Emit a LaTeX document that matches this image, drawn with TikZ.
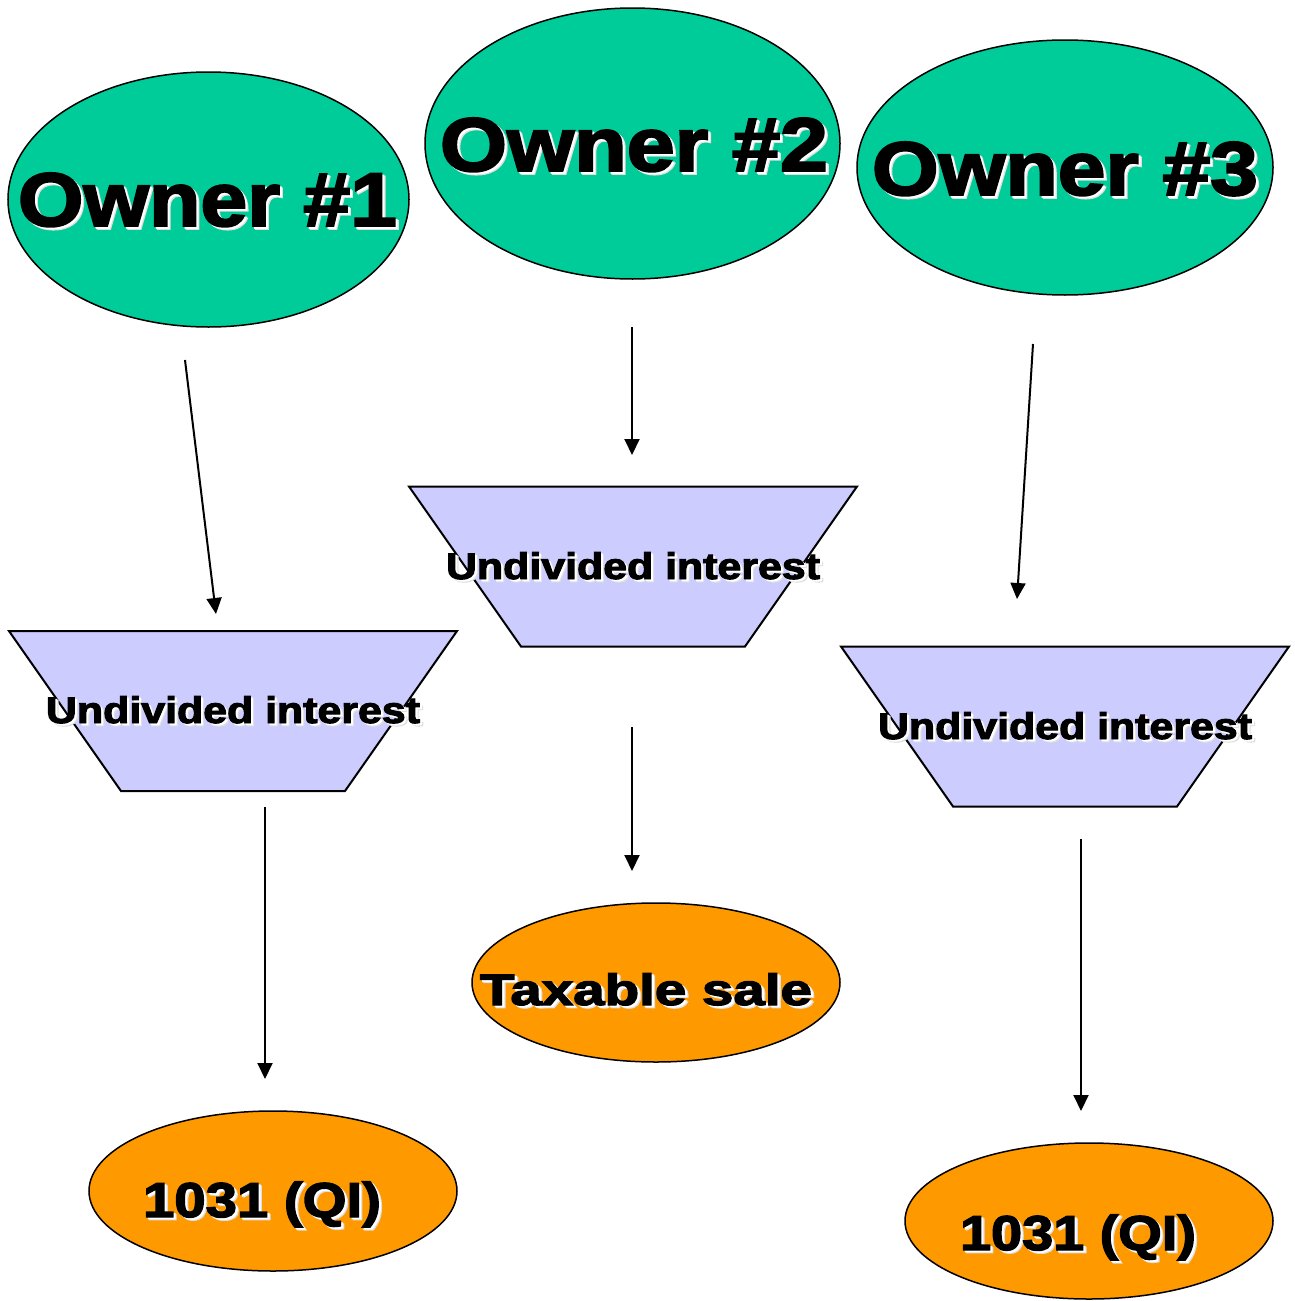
\documentclass[tikz,border=0pt]{standalone}
\usepackage{fontspec}
\usepackage{graphicx}
\usetikzlibrary{shapes.geometric,arrows.meta}
\newfontfamily\heavy[FakeBold=2.6]{Liberation Sans Bold}
\definecolor{ownergreen}{RGB}{0,204,153}
\definecolor{lavender}{RGB}{204,204,255}
\definecolor{amber}{RGB}{255,153,0}
% heavy text with a soft white shadow, stretched to a given width
\newcommand\glowtext[2]{\resizebox{#1}{\height}{%
  \rlap{\kern1.4pt\raisebox{-1.4pt}{\color{white!75!gray}#2}}%
  \rlap{\kern0.9pt\raisebox{-0.9pt}{\color{white}#2}}#2}}
\tikzset{
  owner/.style={ellipse, draw=black, line width=0.75pt, fill=ownergreen, inner sep=0pt, outer sep=0pt},
  outcome/.style={ellipse, draw=black, line width=0.75pt, fill=amber, inner sep=0pt, outer sep=0pt},
  trap/.style={draw=black, line width=1pt, fill=lavender, line join=miter},
  lbl/.style={anchor=base, inner sep=0pt, text=black},
  flow/.style={-{Triangle[length=8pt,width=7.5pt]}, line width=1pt},
}
\begin{document}
\begin{tikzpicture}[x=0.5pt, y=-0.5pt]
\useasboundingbox (0,0) rectangle (1295,1301);
\fill[white] (0,0) rectangle (1295,1301);

% owners
\node[owner, minimum width=200.5pt, minimum height=127.5pt] (o1) at (208.5,199.5) {};
\node[owner, minimum width=207.5pt, minimum height=135.5pt] (o2) at (632.5,143.5) {};
\node[owner, minimum width=208pt, minimum height=127.5pt] (o3) at (1065,167.5) {};
\node[lbl, font=\heavy\fontsize{38}{40}\selectfont] (o1t) at (207.5,226) {\glowtext{189.5pt}{Owner \#1}};
\node[lbl, font=\heavy\fontsize{38}{40}\selectfont] (o2t) at (634,171) {\glowtext{194pt}{Owner \#2}};
\node[lbl, font=\heavy\fontsize{38}{40}\selectfont] (o3t) at (1065,195) {\glowtext{193pt}{Owner \#3}};

% undivided interests
\coordinate (t1) at (233,711);
\coordinate (t2) at (633,566.5);
\coordinate (t3) at (1065,726.5);
\foreach \t in {t1,t2,t3}{
  \path[trap] (\t) ++(-224,-80) -- ++(448,0) -- ++(-112,160) -- ++(-224,0) -- cycle;
}
\node[lbl, font=\heavy\fontsize{18.5}{20}\selectfont] (t1t) at (233,723) {\glowtext{187pt}{Undivided interest}};
\node[lbl, font=\heavy\fontsize{18.5}{20}\selectfont] (t2t) at (633,579) {\glowtext{187pt}{Undivided interest}};
\node[lbl, font=\heavy\fontsize{18.5}{20}\selectfont] (t3t) at (1065,739) {\glowtext{187pt}{Undivided interest}};

% outcomes
\node[outcome, minimum width=184pt, minimum height=80pt] (q1) at (273,1191) {};
\node[outcome, minimum width=184pt, minimum height=79.5pt] (tx) at (656,982.5) {};
\node[outcome, minimum width=184pt, minimum height=78pt] (q3) at (1089,1221) {};
\node[lbl, font=\heavy\fontsize{24.5}{26}\selectfont] (q1t) at (262,1217) {\glowtext{119pt}{1031 (QI)}};
\node[lbl, font=\heavy\fontsize{22}{24}\selectfont] (txt) at (646,1005) {\glowtext{166pt}{Taxable sale}};
\node[lbl, font=\heavy\fontsize{24.5}{26}\selectfont] (q3t) at (1078,1250) {\glowtext{118pt}{1031 (QI)}};

% connector ends
\coordinate (a1s) at (185,360);  \coordinate (a1e) at (216,614);
\coordinate (a2s) at (632,327);  \coordinate (a2e) at (632,455);
\coordinate (a3s) at (1033,344); \coordinate (a3e) at (1017,599);
\coordinate (a4s) at (265,807);  \coordinate (a4e) at (265,1079);
\coordinate (a5s) at (632,727);  \coordinate (a5e) at (632,871);
\coordinate (a6s) at (1081,839); \coordinate (a6e) at (1081,1111);

\draw[flow] (a1s) -- (a1e);
\draw[flow] (a2s) -- (a2e);
\draw[flow] (a3s) -- (a3e);
\draw[flow] (a4s) -- (a4e);
\draw[flow] (a5s) -- (a5e);
\draw[flow] (a6s) -- (a6e);
\end{tikzpicture}
\end{document}
